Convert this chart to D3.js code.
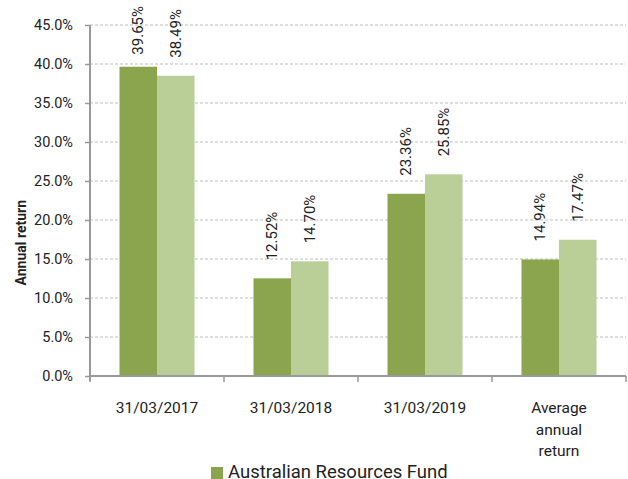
<!DOCTYPE html>
<html>
<head>
<meta charset="utf-8">
<script src="https://cdn.jsdelivr.net/npm/d3@7"></script>
<style>
  body { margin: 0; background: #fff; }
  text { font-family: Roboto, "Noto Sans", sans-serif; fill: #222; }
</style>
</head>
<body>
<div id="chart"></div>
<script>
const categories = ["31/03/2017", "31/03/2018", "31/03/2019", "Average annual return"];
const seriesNames = ["Australian Resources Fund", "Benchmark"];
const fundValues = [39.65, 12.52, 23.36, 14.94];
const benchValues = [38.49, 14.70, 25.85, 17.47];
const yTicks = [0, 5, 10, 15, 20, 25, 30, 35, 40, 45];
const colors = ["#8aa54e", "#bacf97"];

const width = 628, height = 479;
const margin = { top: 25, right: 2, bottom: 103, left: 90 };
const innerWidth = width - margin.left - margin.right;
const innerHeight = height - margin.top - margin.bottom;

const svg = d3.select("#chart")
  .append("svg")
  .attr("width", width)
  .attr("height", height);

const innerChart = svg.append("g")
  .attr("transform", `translate(${margin.left},${margin.top})`);

const xScale = d3.scaleBand()
  .domain(categories)
  .range([0, innerWidth]);

const xInner = d3.scaleBand()
  .domain(seriesNames)
  .range([xScale.bandwidth() * 0.22, xScale.bandwidth() * 0.78]);

const yScale = d3.scaleLinear()
  .domain([0, 45])
  .range([innerHeight, 0]);

// gridlines
innerChart.append("g")
  .selectAll("line")
  .data(yTicks.filter(d => d > 0))
  .join("line")
  .attr("x1", 0)
  .attr("x2", innerWidth)
  .attr("y1", d => yScale(d))
  .attr("y2", d => yScale(d))
  .attr("stroke", "#bdbdbd")
  .attr("stroke-dasharray", "3,2");

// bars
const rows = categories.map((c, i) => ({ cat: c, values: [fundValues[i], benchValues[i]] }));

const groups = innerChart.selectAll(".grp")
  .data(rows)
  .join("g")
  .attr("class", "grp")
  .attr("transform", d => `translate(${xScale(d.cat)},0)`);

groups.selectAll("rect")
  .data(d => d.values.map((v, j) => ({ name: seriesNames[j], v, j })))
  .join("rect")
  .attr("x", d => xInner(d.name))
  .attr("y", d => yScale(d.v))
  .attr("width", xInner.bandwidth())
  .attr("height", d => innerHeight - yScale(d.v))
  .attr("fill", d => colors[d.j]);

// value labels, rotated, kept inside the top of the chart
groups.selectAll(".val")
  .data(d => d.values.map((v, j) => ({ name: seriesNames[j], v, j })))
  .join("text")
  .attr("class", "val")
  .attr("font-size", 15)
  .text(d => d.v.toFixed(2) + "%")
  .attr("transform", function(d) {
    const len = this.getComputedTextLength();
    const y = Math.max(yScale(d.v) - 18, len + 6 - margin.top);
    return `translate(${xInner(d.name) + xInner.bandwidth() / 2 + 5},${y}) rotate(-90)`;
  });

// left axis
const leftAxis = d3.axisLeft(yScale)
  .tickValues(yTicks)
  .tickSize(5)
  .tickPadding(12)
  .tickFormat(d => d.toFixed(1) + "%");

const yAxisG = innerChart.append("g").call(leftAxis);
yAxisG.select(".domain").attr("stroke", "#9a9a9a").attr("stroke-width", 2).attr("d", `M0,${innerHeight + 5}V0`);
yAxisG.selectAll(".tick line").attr("stroke", "#9a9a9a").attr("stroke-width", 1.5);
yAxisG.selectAll("text").attr("font-size", 14.5).attr("font-family", "Roboto").attr("fill", "#222");

// bottom axis
const bottomG = innerChart.append("g")
  .attr("transform", `translate(0,${innerHeight})`);
bottomG.append("line")
  .attr("x1", 0).attr("x2", innerWidth)
  .attr("stroke", "#9a9a9a").attr("stroke-width", 2);
bottomG.selectAll(".xt")
  .data(categories.concat([null]))
  .join("line")
  .attr("class", "xt")
  .attr("x1", (d, i) => i < categories.length ? xScale(d) : innerWidth)
  .attr("x2", (d, i) => i < categories.length ? xScale(d) : innerWidth)
  .attr("y1", 0).attr("y2", 6)
  .attr("stroke", "#9a9a9a").attr("stroke-width", 1.5);

const xLabels = bottomG.selectAll(".xl")
  .data(categories)
  .join("text")
  .attr("class", "xl")
  .attr("text-anchor", "middle")
  .attr("font-size", 15.5)
  .attr("y", 37);

xLabels.each(function(d) {
  const words = d.startsWith("Average") ? d.split(" ") : [d];
  d3.select(this).selectAll("tspan")
    .data(words)
    .join("tspan")
    .attr("x", xScale(d) + xScale.bandwidth() / 2)
    .attr("dy", (w, i) => i === 0 ? 0 : 21.5)
    .text(w => w);
});

// axis title
svg.append("text")
  .attr("transform", `translate(26,${margin.top + innerHeight / 2 + 85}) rotate(-90)`)
  .attr("font-size", 14)
  .attr("font-weight", "bold")
  .attr("fill", "#111")
  .text("Annual return");

// legend (only the first entry fits in the frame)
const legend = svg.append("g")
  .attr("transform", "translate(211,467)");
legend.append("rect")
  .attr("width", 12).attr("height", 12)
  .attr("fill", colors[0]);
legend.append("text")
  .attr("x", 17).attr("y", 11)
  .attr("font-size", 18.5)
  .text(seriesNames[0]);
</script>
</body>
</html>
